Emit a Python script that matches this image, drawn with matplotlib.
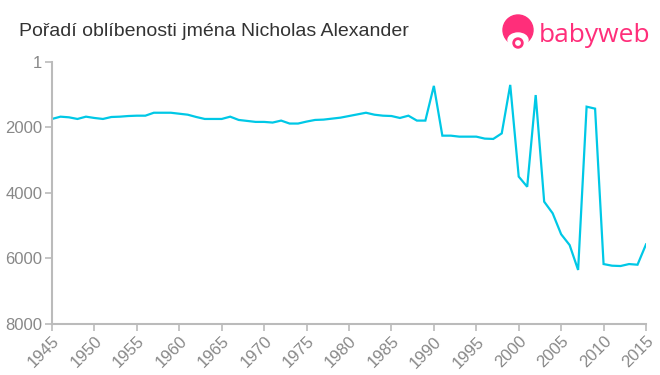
import matplotlib
matplotlib.use("Agg")
import matplotlib.pyplot as plt
from matplotlib.patches import Circle, Ellipse

years = list(range(1945, 2016))
ranks = [1740, 1670, 1690, 1740, 1670, 1710, 1740, 1680, 1670, 1650,
         1640, 1640, 1550, 1550, 1550, 1580, 1610, 1680, 1740, 1740,
         1740, 1670, 1770, 1800, 1830, 1830, 1850, 1790, 1880, 1880,
         1820, 1770, 1760, 1730, 1700, 1650, 1600, 1550, 1610, 1640,
         1650, 1710, 1640, 1790, 1790, 730, 2250, 2250, 2280, 2280,
         2280, 2340, 2350, 2180, 700, 3500, 3810, 1010, 4265, 4620,
         5260, 5590, 6350, 1365, 1425, 6170, 6220, 6230, 6170, 6190,
         5570]
yticks = [1, 2000, 4000, 6000, 8000]
xticks = list(range(1945, 2016, 5))
title = "Pořadí oblíbenosti jména Nicholas Alexander"

plt.rcParams['font.family'] = ['Liberation Sans', 'DejaVu Sans']

fig = plt.figure(figsize=(6.6, 3.75), dpi=100)
ax = fig.add_axes([52/660, 1 - 324/375, (646-52)/660, (324-62)/375])

ax.plot(years, ranks, color='#00c8e6', lw=1.6, solid_joinstyle='miter')
ax.set_xlim(1945, 2015)
ax.set_ylim(8000, 1)
ax.set_yticks(yticks)
ax.set_yticklabels([str(v) for v in yticks])
ax.set_xticks(xticks)
ax.set_xticklabels([str(v) for v in xticks], rotation=45, ha='right',
                   rotation_mode='anchor')

for s in ['top', 'right']:
    ax.spines[s].set_visible(False)
for s in ['left', 'bottom']:
    ax.spines[s].set_color('#bbbbbb')
    ax.spines[s].set_linewidth(1.5)
ax.tick_params(axis='both', colors='#bbbbbb', width=1.2, length=5,
               labelcolor='#888888', labelsize=12)
ax.tick_params(axis='x', pad=2)
ax.tick_params(axis='y', pad=2)

fig.text(19/660, 1 - 32/375, title, fontsize=14, color='#333333',
         va='center', ha='left')

# logo
pink = '#ff2e7a'
logo_ax = fig.add_axes([0, 0, 1, 1], facecolor='none')
logo_ax.set_xlim(0, 660)
logo_ax.set_ylim(375, 0)
logo_ax.axis('off')
logo_ax.add_patch(Circle((518, 30), 15, color=pink))
logo_ax.add_patch(Ellipse((518, 40), 20, 14, color='white'))
logo_ax.add_patch(Circle((518, 43), 5, color=pink))
logo_ax.add_patch(Circle((518, 43), 2.2, color='white'))
fig.text(539/660, 1 - 36/375, 'babyweb', fontsize=19, color=pink,
         va='center', ha='left', family=['Open Sans', 'DejaVu Sans'])

fig.savefig('out.png', dpi=100)
